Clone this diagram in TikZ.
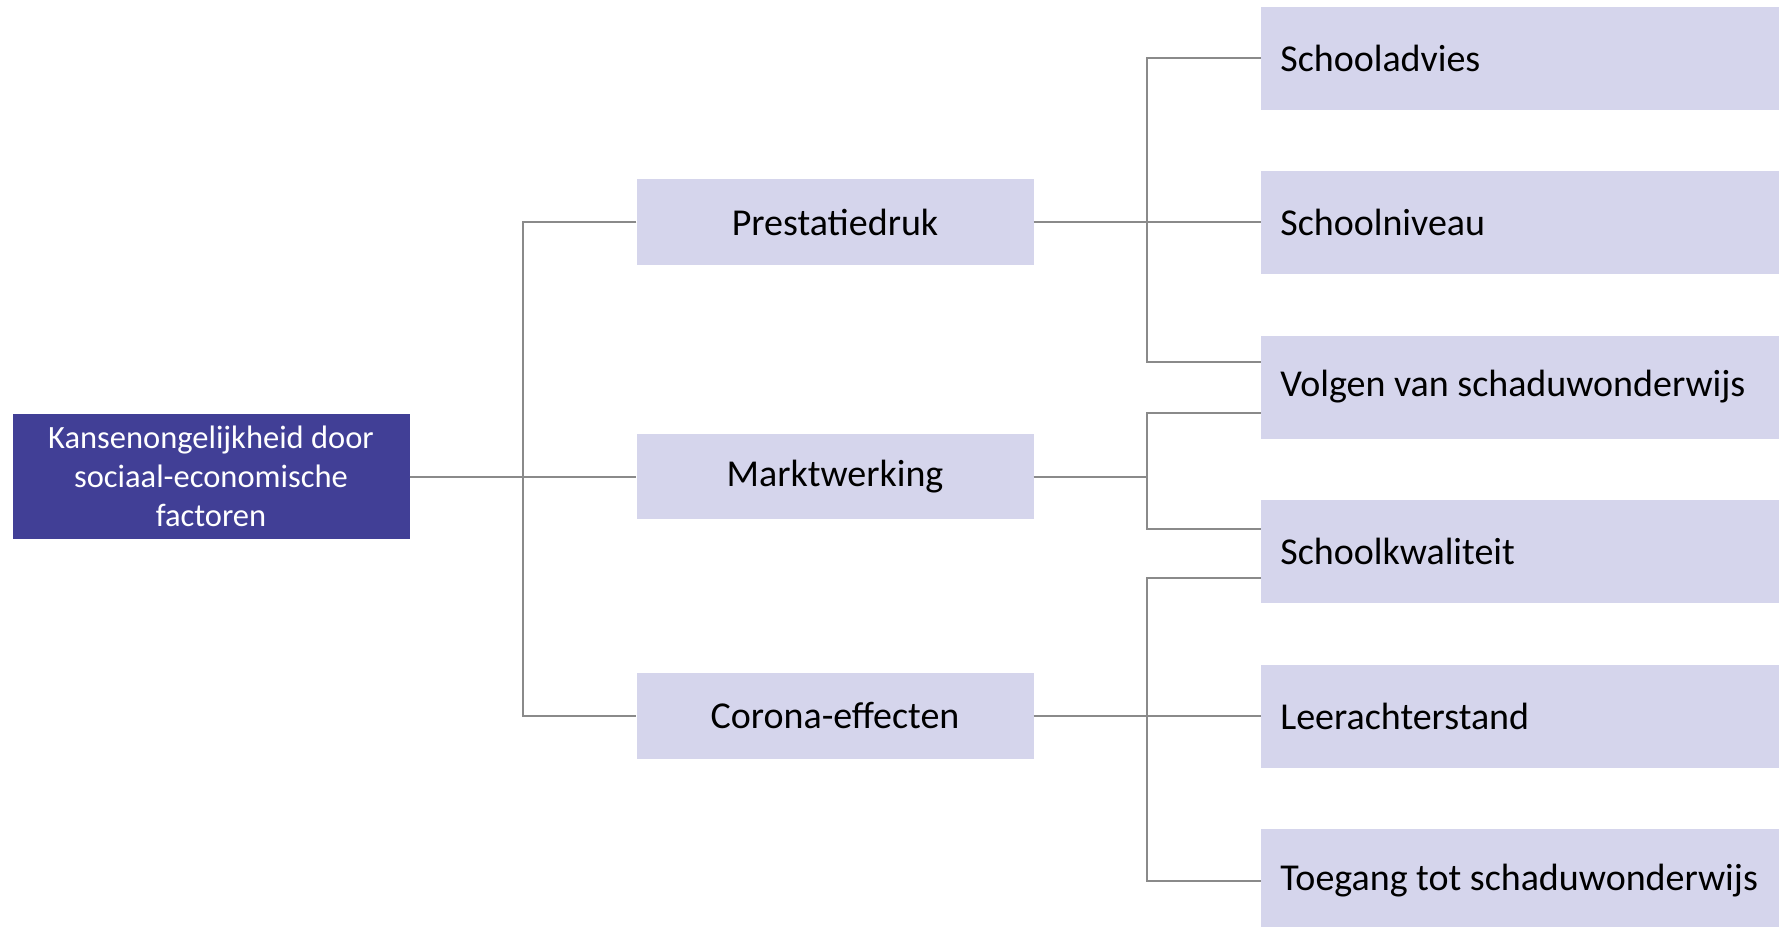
\documentclass[tikz,border=0pt]{standalone}
\usepackage{fontspec}
\setmainfont{Carlito}
\usetikzlibrary{calc}
\definecolor{rootc}{HTML}{413F96}
\definecolor{boxc}{HTML}{D5D5EC}
\definecolor{linec}{HTML}{8A8A8A}
\newcommand{\leaftext}[1]{\makebox[521pt][l]{#1}}
\begin{document}
\begin{tikzpicture}[x=1pt,y=-1pt,
  rootbox/.style={rectangle, fill=rootc, text=white, minimum width=397pt, minimum height=125pt, align=center, inner sep=0pt, font=\fontsize{32.5}{39}\selectfont},
  midbox/.style={rectangle, fill=boxc, text=black, minimum width=397pt, minimum height=85.5pt, inner sep=0pt, font=\fontsize{38}{44}\selectfont},
  leafbox/.style={rectangle, fill=boxc, text=black, anchor=west, minimum height=103pt, inner xsep=19.5pt, inner ysep=0pt, font=\fontsize{38}{44}\selectfont},
  conn/.style={draw=linec, line width=2pt}]
\useasboundingbox (0,0) rectangle (1779,926);
\fill[white] (0,0) rectangle (1779,926);
\node[rootbox] (root) at (211,476.5) {Kansenongelijkheid door\\sociaal-economische\\factoren};
\node[midbox] (m1) at (835,222) {Prestatiedruk};
\node[midbox] (m2) at (835,476.5) {Marktwerking};
\node[midbox] (m3) at (835,716) {Corona-effecten};
\node[leafbox] (r1) at (1260.6,58) {\leaftext{Schooladvies}};
\node[leafbox] (r2) at (1260.6,222) {\leaftext{Schoolniveau}};
\node[leafbox] (r3) at (1260.6,387) {\leaftext{Volgen van schaduwonderwijs}};
\node[leafbox] (r4) at (1260.6,551) {\leaftext{Schoolkwaliteit}};
\node[leafbox] (r5) at (1260.6,716) {\leaftext{Leerachterstand}};
\node[leafbox] (r6) at (1260.6,880.5) {\leaftext{Toegang tot schaduwonderwijs}};
\coordinate (J) at ($(root.east)!0.5!(m2.west)$);
\coordinate (K1) at ($(m1.east)!0.5!(r2.west)$);
\coordinate (K2) at (K1 |- m2.east);
\coordinate (K3) at ($(m3.east)!0.5!(r5.west)$);
\draw[conn] (root.east) -- (m2.west);
\draw[conn] (m1.west) -| (J) |- (m3.west);
\draw[conn] (m1.east) -- (r2.west);
\draw[conn] (r1.west) -| (K1) |- ([yshift=25pt]r3.west);
\draw[conn] (m2.east) -- (K2);
\draw[conn] ([yshift=-26pt]r3.west) -| (K2) |- ([yshift=22pt]r4.west);
\draw[conn] (m3.east) -- (r5.west);
\draw[conn] ([yshift=-27pt]r4.west) -| (K3) |- (r6.west);
\end{tikzpicture}
\end{document}
